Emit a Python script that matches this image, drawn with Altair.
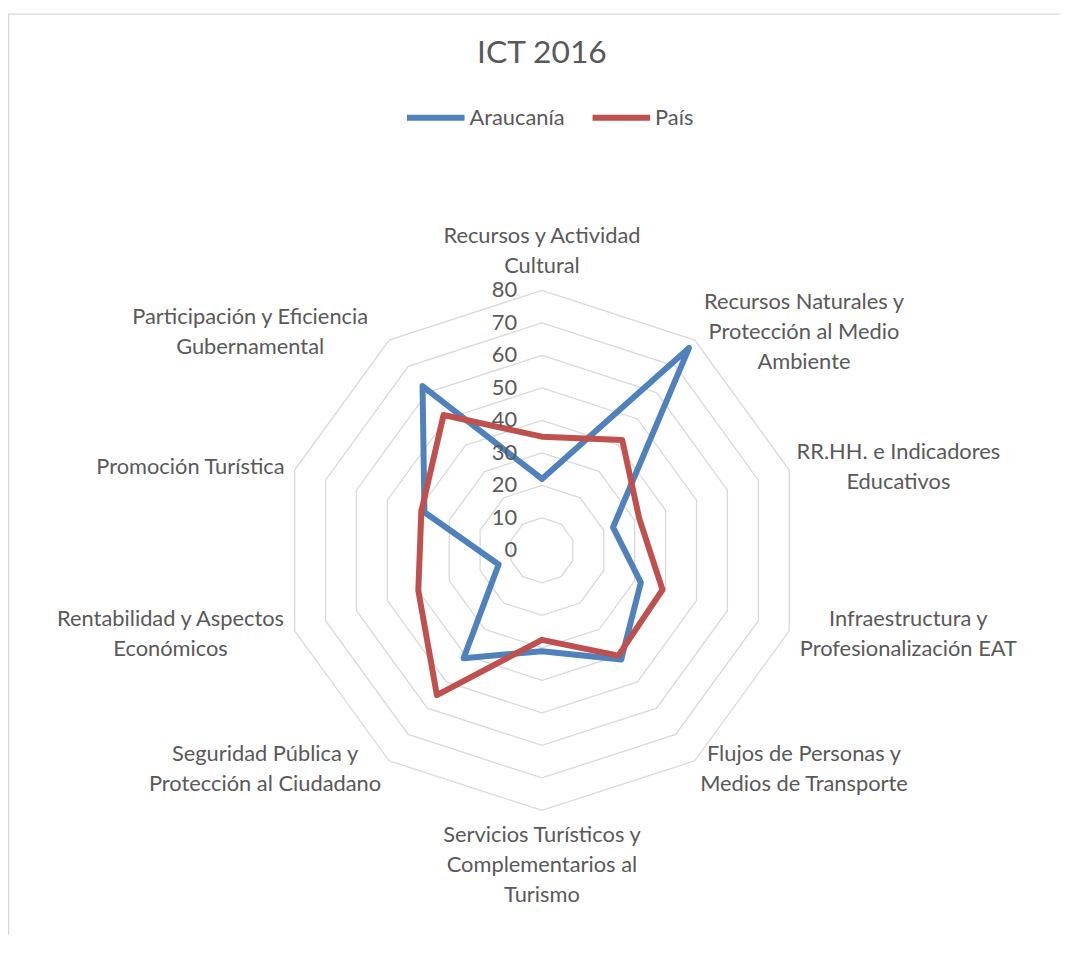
import altair as alt
import pandas as pd

# ---------------- data ----------------
categories = [
    "Recursos y Actividad Cultural",
    "Recursos Naturales y Protección al Medio Ambiente",
    "RR.HH. e Indicadores Educativos",
    "Infraestructura y Profesionalización EAT",
    "Flujos de Personas y Medios de Transporte",
    "Servicios Turísticos y Complementarios al Turismo",
    "Seguridad Pública y Protección al Ciudadano",
    "Rentabilidad y Aspectos Económicos",
    "Promoción Turística",
    "Participación y Eficiencia Gubernamental",
]
category_lines = [
    "Recursos y Actividad\nCultural",
    "Recursos Naturales y\nProtección al Medio\nAmbiente",
    "RR.HH. e Indicadores\nEducativos",
    "Infraestructura y\nProfesionalización EAT",
    "Flujos de Personas y\nMedios de Transporte",
    "Servicios Turísticos y\nComplementarios al\nTurismo",
    "Seguridad Pública y\nProtección al Ciudadano",
    "Rentabilidad y Aspectos\nEconómicos",
    "Promoción Turística",
    "Participación y Eficiencia\nGubernamental",
]
araucania = [22, 77, 23, 32, 41.5, 31, 41, 14, 38, 62.5]
pais = [35, 42, 31.5, 39, 40, 27.5, 55, 40, 39, 51.5]
series_names = ["Araucanía", "País"]
series_colors = ["#4F81BD", "#C0504D"]
tick_values = [0, 10, 20, 30, 40, 50, 60, 70, 80]
ring_values = [10, 20, 30, 40, 50, 60, 70, 80]
axis_max = 80

# ---------------- layout ----------------
W, H = 1060, 928
CX, CY = 538, 541          # centre of the radar inside the view (px)
R_MAX = 262                # radius of the outer ring (px)
K = R_MAX / axis_max       # px per unit
N = len(categories)
FONT = "Lato"
TXT = "#595959"
FS = 22

xscale = alt.Scale(domain=[-CX / K, (W - CX) / K], nice=False, zero=False)
yscale = alt.Scale(domain=[-(H - CY) / K, CY / K], nice=False, zero=False)

# ---------------- tables ----------------
ser_rows = []
for name, vals in zip(series_names, [araucania, pais]):
    for i in range(N + 1):
        ser_rows.append({"series": name, "idx": i, "value": vals[i % N],
                         "category": categories[i % N]})
ser_df = pd.DataFrame(ser_rows)

ring_df = pd.DataFrame([{"ring": r, "idx": i} for r in ring_values for i in range(N + 1)])
tick_df = pd.DataFrame({"t": tick_values})
lab_df = pd.DataFrame({
    "idx": list(range(N)),
    "label": category_lines,
    "nlines": [s.count("\n") + 1 for s in category_lines],
    "maxchars": [max(len(p) for p in s.split("\n")) for s in category_lines],
})

ang = "datum.idx * 2 * PI / %d" % N

rings = alt.Chart(ring_df).transform_calculate(
    a=ang).transform_calculate(
    x="datum.ring * sin(datum.a)", y="datum.ring * cos(datum.a)"
).mark_line(color="#d9d9d9", strokeWidth=1.3).encode(
    x=alt.X("x:Q", scale=xscale, axis=None),
    y=alt.Y("y:Q", scale=yscale, axis=None),
    detail="ring:N",
    order="idx:Q",
)

lines = alt.Chart(ser_df).transform_calculate(
    a=ang).transform_calculate(
    x="datum.value * sin(datum.a)", y="datum.value * cos(datum.a)"
).mark_line(strokeWidth=6, strokeJoin="round", strokeCap="round").encode(
    x=alt.X("x:Q", scale=xscale, axis=None),
    y=alt.Y("y:Q", scale=yscale, axis=None),
    color=alt.Color(
        "series:N",
        scale=alt.Scale(domain=series_names, range=series_colors),
        legend=alt.Legend(
            orient="none", legendX=399, legendY=73, direction="horizontal",
            title=None, symbolType="stroke", symbolSize=3364,
            symbolStrokeWidth=6, labelFontSize=FS, labelFont=FONT,
            labelColor=TXT, columnPadding=16, labelOffset=2, padding=0,
        ),
    ),
    order="idx:Q",
)

ticks = alt.Chart(tick_df).transform_calculate(x="0").mark_text(
    align="right", baseline="middle", dx=-25, fontSize=FS, font=FONT, color=TXT
).encode(
    x=alt.X("x:Q", scale=xscale, axis=None),
    y=alt.Y("t:Q", scale=yscale, axis=None),
    text="t:Q",
)

GAP = 10
LH = 30
CW = 10  # approx px per character
labels = alt.Chart(lab_df).transform_calculate(
    a=ang).transform_calculate(
    s="sin(datum.a)", c="cos(datum.a)"
).transform_calculate(
    side="abs(datum.s) > 0.05 ? (datum.s > 0 ? 1 : -1) : 0"
).transform_calculate(
    lx="%f * datum.s + datum.side * (%f + datum.maxchars * %f) / %f" % (axis_max, GAP, CW / 2, K),
    ly=("%f * datum.c + (datum.c * (datum.side == 0 ? (%f + datum.nlines * %f / 2) : %f)"
        " + (datum.nlines - 1) * %f / 2) / %f") % (axis_max, GAP, LH, GAP, LH, K),
).mark_text(
    align="center", baseline="middle", lineBreak="\n", lineHeight=LH,
    fontSize=FS, font=FONT, color=TXT,
).encode(
    x=alt.X("lx:Q", scale=xscale, axis=None),
    y=alt.Y("ly:Q", scale=yscale, axis=None),
    text="label:N",
)

border_left = alt.Chart(alt.Data(values=[{}])).mark_rule(color="#d9d9d9", strokeWidth=1.3).encode(
    x=alt.value(0.7), y=alt.value(0), y2=alt.value(H))
border_top = alt.Chart(alt.Data(values=[{}])).mark_rule(color="#d9d9d9", strokeWidth=1.3).encode(
    x=alt.value(0), x2=alt.value(W), y=alt.value(0.7))

chart = alt.layer(border_left, border_top, rings, lines, ticks, labels).properties(
    width=W, height=H,
    autosize=alt.AutoSizeParams(type="none"),
    padding={"left": 0, "top": 2, "right": 0, "bottom": 0},
    title=alt.TitleParams("ICT 2016", fontSize=32, font=FONT, color=TXT,
                          fontWeight="normal", anchor="middle", offset=-58, dx=8),
).configure_view(stroke=None)

chart.save("out.html", embed_options={"renderer": "svg", "actions": False})
